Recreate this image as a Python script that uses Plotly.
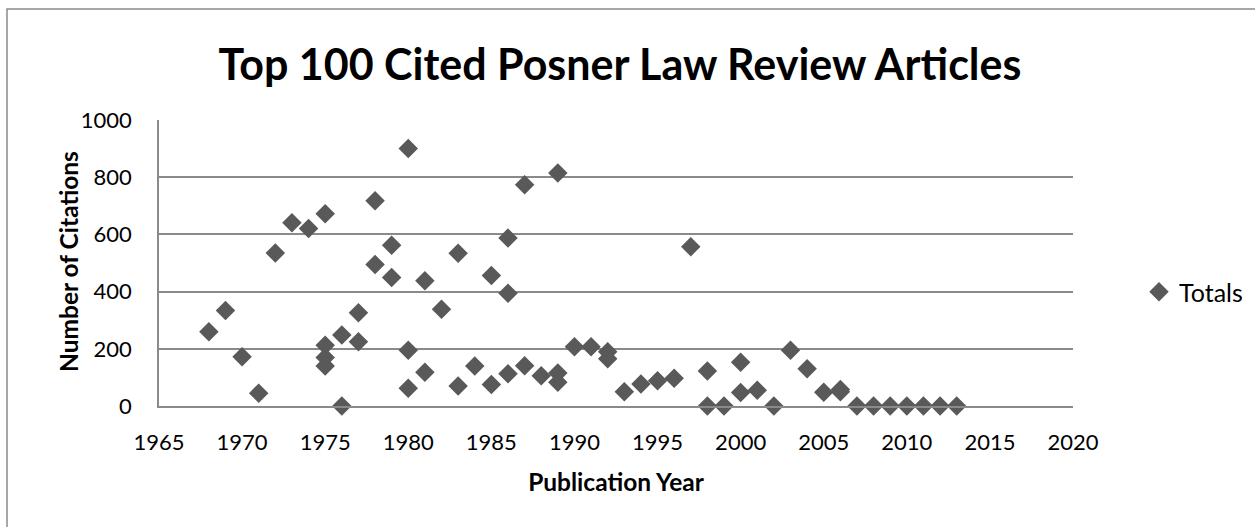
import plotly.graph_objects as go

# Data
years = [1968, 1969, 1970, 1971, 1972, 1973, 1974,
         1975, 1975, 1975, 1975,
         1976, 1976,
         1977, 1977,
         1978, 1978,
         1979, 1979,
         1980, 1980, 1980,
         1981, 1981,
         1982,
         1983, 1983,
         1984,
         1985, 1985,
         1986, 1986, 1986,
         1987, 1987,
         1988,
         1989, 1989, 1989,
         1990, 1991,
         1992, 1992,
         1993, 1994, 1995, 1996, 1997,
         1998, 1998,
         1999,
         2000, 2000,
         2001, 2002, 2003, 2004, 2005,
         2006, 2006,
         2007, 2008, 2009, 2010, 2011, 2012, 2013]
citations = [260, 334, 172, 45, 535, 641, 621,
             672, 212, 170, 140,
             248, 0,
             326, 225,
             718, 495,
             562, 449,
             900, 195, 62,
             438, 118,
             338,
             534, 70,
             140,
             456, 75,
             587, 394, 113,
             774, 141,
             106,
             815, 115, 83,
             207, 207,
             190, 165,
             50, 77, 88, 97, 557,
             122, 0,
             0,
             153, 47,
             55, 0, 195, 130, 48,
             58, 50,
             0, 0, 0, 0, 0, 0, 0]

series_name = "Totals"
chart_title = "Top 100 Cited Posner Law Review Articles"
x_title = "Publication Year"
y_title = "Number of Citations"
x_ticks = [1965, 1970, 1975, 1980, 1985, 1990, 1995, 2000, 2005, 2010, 2015, 2020]
y_ticks = [0, 200, 400, 600, 800, 1000]

FONT = "Lato"
GRID = "#8a8a8a"
MARK = "#595959"

fig = go.Figure()
fig.add_trace(go.Scatter(
    x=years, y=citations, mode="markers", name=series_name,
    marker=dict(symbol="diamond", size=15, color=MARK, line=dict(width=0)),
    cliponaxis=False,
))

W, H = 1255, 527
L, R, T, B = 159, 1073, 120, 406

fig.update_layout(
    width=W, height=H,
    margin=dict(l=L, r=W - R, t=T, b=H - B, pad=0, autoexpand=False),
    paper_bgcolor="white", plot_bgcolor="white",
    font=dict(family=FONT, color="black", size=22),
    showlegend=True,
    title=dict(text="<b>" + chart_title + "</b>", x=620 / W, xref="container", xanchor="center",
               y=1 - 65 / H, yref="container", yanchor="middle",
               font=dict(family=FONT, size=43, color="black")),
    legend=dict(xref="container", yref="container", x=1139 / W, xanchor="left",
                y=1 - 292 / H, yanchor="middle",
                font=dict(family=FONT, size=25, color="black"),
                bgcolor="rgba(0,0,0,0)", itemwidth=30, tracegroupgap=0),
    xaxis=dict(range=[1965, 2020], tickvals=x_ticks, showgrid=False, zeroline=False,
               showline=True, linecolor=GRID, linewidth=1.5, ticks="",
               ticklabelstandoff=16, automargin=False,
               tickfont=dict(family=FONT, size=22, color="black"),
               title=dict(text="<b>" + x_title + "</b>", standoff=20,
                          font=dict(family=FONT, size=24.5, color="black"))),
    yaxis=dict(range=[0, 1000], tickvals=y_ticks, showgrid=True, gridcolor=GRID, gridwidth=1.5,
               zeroline=False, showline=True, linecolor=GRID, linewidth=1.5, ticks="",
               ticklabelstandoff=21, automargin=False,
               tickfont=dict(family=FONT, size=22, color="black")),
    annotations=[dict(text="<b>" + y_title + "</b>", textangle=-90, showarrow=False,
                      xref="paper", yref="paper", x=(68 - L) / (R - L), y=(B - 262) / (B - T),
                      xanchor="center", yanchor="middle",
                      font=dict(family=FONT, size=24.5, color="black"))],
    shapes=[dict(type="rect", xref="paper", yref="paper",
                 x0=(7 - L) / (R - L), x1=2.0, y0=-2.0, y1=(B - 9) / (B - T),
                 line=dict(color=GRID, width=1.5), fillcolor="rgba(0,0,0,0)", layer="below")],
)

fig.write_html("out.html", config={"displayModeBar": False},
               post_script="document.body.style.margin='0';document.body.style.padding='0';")
